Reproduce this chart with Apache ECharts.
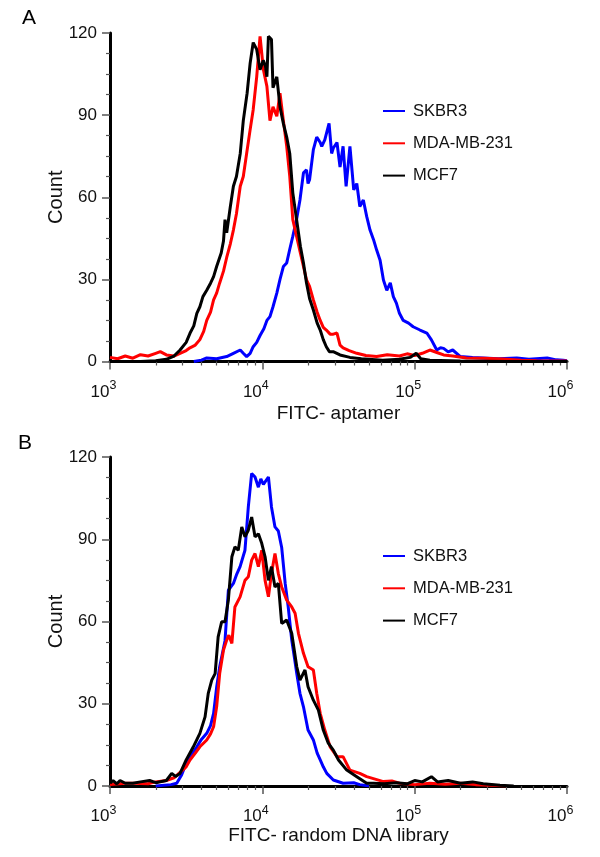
<!DOCTYPE html>
<html>
<head>
<meta charset="utf-8">
<script src="https://cdn.jsdelivr.net/npm/echarts@6/dist/echarts.min.js"></script>
<style>html,body{margin:0;padding:0;background:#fff}#c{width:600px;height:857px}</style>
</head>
<body>
<div id="c"></div>
<script>
// x values are log10 of fluorescence intensity (axis shows 10^3 .. 10^6)
const seriesNames = ['SKBR3', 'MDA-MB-231', 'MCF7'];
const seriesColors = ['#0000ff', '#ff0000', '#000000'];
const xExponents = [3, 4, 5, 6];
const yTicks = [0, 30, 60, 90, 120];

// Panel A: FITC- aptamer
const aSKBR3 = [[3.55,0],[3.60,0.5],[3.635,1.3],[3.70,1.0],[3.766,1.8],[3.81,3],[3.855,4.2],[3.875,3],[3.897,1.8],[3.92,3],[3.94,5.4],[3.963,7],[3.985,9.5],[4.01,12],[4.03,15],[4.05,16.4],[4.07,20],[4.095,25],[4.116,30],[4.138,34.7],[4.16,36],[4.18,41],[4.20,45.7],[4.225,52],[4.247,59],[4.27,68.9],[4.29,70],[4.30,65],[4.31,66.4],[4.335,77.4],[4.357,82],[4.38,80],[4.39,78.6],[4.41,81],[4.438,87],[4.455,76],[4.466,78],[4.49,80],[4.51,71],[4.53,78.6],[4.55,64],[4.575,78.6],[4.60,62.7],[4.62,65],[4.64,56.6],[4.663,59],[4.685,53],[4.707,48],[4.73,44.5],[4.75,40.8],[4.773,37],[4.795,29.8],[4.817,26],[4.84,28.7],[4.86,23.7],[4.88,21.3],[4.90,17.6],[4.925,15],[4.96,14],[4.99,12.7],[5.035,11.5],[5.08,10.4],[5.11,7.9],[5.145,4.2],[5.17,5],[5.19,4.8],[5.22,3.5],[5.25,4.2],[5.30,1.8],[5.38,1.5],[5.45,1.3],[5.55,1.0],[5.67,1.3],[5.75,0.8],[5.87,1.3],[5.93,0.6],[5.975,0.5],[6.0,0.3]];
const aMDA = [[3.00,1.5],[3.05,1.0],[3.10,2.0],[3.15,1.2],[3.20,2.5],[3.25,2.0],[3.30,3.0],[3.33,3.6],[3.37,2.4],[3.42,2.0],[3.46,3.0],[3.50,4.0],[3.525,5],[3.56,6],[3.59,8],[3.615,11],[3.635,15],[3.66,18],[3.68,22.5],[3.70,25],[3.72,28.7],[3.745,33],[3.766,38],[3.79,43],[3.81,48],[3.83,54],[3.855,64],[3.875,67.6],[3.897,76],[3.92,84.7],[3.94,92],[3.963,104],[3.985,118.8],[4.007,106.6],[4.03,100.5],[4.05,88],[4.07,93],[4.095,89.6],[4.116,98],[4.138,88],[4.16,78.6],[4.18,67.6],[4.20,51.8],[4.225,45.7],[4.25,39.6],[4.27,34.7],[4.29,29.8],[4.31,27.4],[4.335,22.5],[4.36,18],[4.38,15],[4.40,12.5],[4.42,11.5],[4.445,10],[4.466,10],[4.49,10.4],[4.51,6],[4.53,5],[4.57,4],[4.62,3],[4.68,2.2],[4.75,1.8],[4.82,2.5],[4.90,2],[4.95,2.8],[5.00,2.2],[5.05,3],[5.10,4.2],[5.15,3.2],[5.19,2.4],[5.25,2],[5.34,1.3],[5.45,1.2],[5.58,0.9],[5.70,0.5],[5.80,0.3],[6.0,0.2]];
const aMCF7 = [[3.00,0],[3.20,0],[3.30,0.3],[3.37,0.8],[3.42,2],[3.46,4.2],[3.50,7],[3.525,10.3],[3.55,13],[3.57,17.6],[3.59,20],[3.61,23.7],[3.635,26],[3.66,28.6],[3.68,31],[3.70,34.7],[3.73,39.6],[3.745,44],[3.755,51.8],[3.766,47],[3.79,56.6],[3.81,64],[3.83,67.6],[3.855,76],[3.875,88],[3.90,98],[3.92,109],[3.94,116.5],[3.963,114],[3.985,106.6],[4.006,110],[4.02,108],[4.03,104],[4.04,118.8],[4.06,117.6],[4.07,100],[4.095,104],[4.116,93],[4.138,87],[4.16,82],[4.18,76],[4.20,61.6],[4.225,51.8],[4.25,42],[4.27,36],[4.29,28.7],[4.31,23],[4.335,18.8],[4.36,14],[4.38,11.5],[4.40,8],[4.42,5.4],[4.44,3.6],[4.465,3.6],[4.51,2.4],[4.575,1.5],[4.65,1.0],[4.79,0.5],[4.90,0.8],[4.97,1.5],[5.01,3.0],[5.04,1.0],[5.10,0.5],[5.30,0.2],[5.6,0],[6.0,0]];

// Panel B: FITC- random DNA library
const bSKBR3 = [[3.30,0],[3.40,0.5],[3.438,1],[3.47,4],[3.50,8.3],[3.53,11],[3.57,14.3],[3.60,17],[3.635,19.2],[3.66,22],[3.68,26.5],[3.70,36],[3.72,43.5],[3.755,53],[3.777,71.4],[3.81,73.9],[3.83,77],[3.854,80],[3.886,86],[3.908,101.8],[3.93,114],[3.952,112.7],[3.974,109],[3.99,112],[4.007,110],[4.04,112.7],[4.06,101.8],[4.083,94.5],[4.105,93],[4.127,87],[4.15,73.9],[4.17,65.3],[4.193,53.2],[4.21,47],[4.226,41],[4.247,33.8],[4.27,28.9],[4.30,20.4],[4.335,16.8],[4.36,12],[4.38,9.5],[4.40,7],[4.423,4.6],[4.466,2.2],[4.53,1],[4.60,1.2],[4.64,0.5],[4.70,0]];
const bMDA = [[3.00,0.5],[3.10,1],[3.15,1],[3.25,0.8],[3.30,1.5],[3.37,2],[3.42,3],[3.46,5],[3.50,7],[3.525,9.5],[3.56,12],[3.59,14.3],[3.635,16.8],[3.66,19],[3.68,21.6],[3.70,28.9],[3.72,41],[3.745,49.6],[3.766,53.2],[3.78,55],[3.80,52],[3.82,65.3],[3.854,69],[3.886,75],[3.908,76.3],[3.93,82.4],[3.952,84.8],[3.974,80],[3.996,86],[4.018,75],[4.04,69],[4.06,77.5],[4.083,84.8],[4.105,77.5],[4.127,72.6],[4.16,67.8],[4.193,65.3],[4.215,63],[4.237,55.7],[4.27,48.4],[4.30,43.5],[4.335,42.3],[4.357,33.8],[4.38,26.5],[4.41,20.4],[4.445,14.3],[4.49,10.7],[4.53,10.7],[4.575,5.8],[4.64,4.6],[4.685,3.4],[4.74,2.5],[4.795,1.6],[4.85,1.8],[4.90,1],[5.0,0.5],[5.1,1],[5.2,0.6],[5.3,1],[5.4,0.5],[5.5,0.3],[5.6,0]];
const bMCF7 = [[3.00,1],[3.02,2],[3.045,0.8],[3.066,2],[3.10,1],[3.15,1],[3.20,1.5],[3.26,2],[3.30,1.2],[3.37,2],[3.405,4.6],[3.43,3.5],[3.46,4.6],[3.50,9.5],[3.547,14.3],[3.59,19.2],[3.624,25.2],[3.645,33.8],[3.668,38.6],[3.69,41],[3.71,54.4],[3.733,59.9],[3.755,59.9],[3.777,67.8],[3.80,83.6],[3.82,87.2],[3.842,86],[3.865,94.5],[3.886,90.9],[3.908,93.3],[3.93,98.1],[3.952,90.9],[3.974,92],[3.996,88.5],[4.018,83.6],[4.04,75],[4.06,80],[4.083,72.6],[4.105,73.9],[4.127,59.3],[4.16,60.5],[4.193,55.7],[4.226,43.5],[4.247,38.6],[4.28,42.3],[4.30,36.2],[4.335,31.3],[4.368,27.7],[4.40,20.4],[4.433,15.6],[4.466,13.1],[4.50,9.5],[4.554,5.8],[4.62,3.4],[4.685,1],[4.73,1],[4.80,0.8],[4.88,1.2],[4.95,0.8],[5.0,2],[5.05,1.5],[5.11,3.4],[5.15,1.5],[5.22,2],[5.30,1],[5.38,1.5],[5.45,0.8],[5.56,0.3],[5.65,0]];

const panelData = [[aSKBR3, aMDA, aMCF7], [bSKBR3, bMDA, bMCF7]];
const xTitles = ['FITC- aptamer', 'FITC- random DNA library'];
const panelLetters = ['A', 'B'];

const FONT = '"Liberation Sans", Arial, sans-serif';
// minor log ticks (2..9 x 10^n)
const minorTicks = [];
for (let e = 3; e < 6; e++) for (let k = 2; k <= 9; k++) minorTicks.push(e + Math.log10(k));

const grids = [
  {left: 110, top: 33, width: 457, height: 328.5},
  {left: 110, top: 457, width: 457, height: 329}
];

const xAxes = [], yAxes = [], series = [], legends = [];
const legendTops = [101.5, 546.5];
const xNameGaps = [43, 40];
grids.forEach((g, i) => {
  xAxes.push({
    gridIndex: i, type: 'value', min: 3, max: 6, interval: 1,
    name: xTitles[i], nameLocation: 'middle', nameGap: xNameGaps[i], nameMoveOverlap: false,
    nameTextStyle: {fontSize: 19, color: '#111', fontFamily: FONT},
    axisLine: {show: true, onZero: false, lineStyle: {color: '#000', width: 3}},
    axisTick: {show: true, length: 8, customValues: xExponents, lineStyle: {color: '#555', width: 1.5}},
    axisLabel: {
      margin: 18, customValues: xExponents, padding: [0, 13, 0, 0],
      formatter: v => '{b|10}{s|' + Math.round(v) + '}',
      rich: {
        b: {fontSize: 17, color: '#111', fontFamily: FONT, verticalAlign: 'bottom', lineHeight: 21},
        s: {fontSize: 12.5, color: '#111', fontFamily: FONT, verticalAlign: 'top', lineHeight: 14}
      }
    },
    splitLine: {show: false}
  });
  xAxes.push({
    gridIndex: i, type: 'value', min: 3, max: 6, position: 'bottom',
    axisLine: {show: false},
    axisTick: {show: true, length: 4, customValues: minorTicks, lineStyle: {color: '#555', width: 1.2}},
    axisLabel: {show: false}, splitLine: {show: false}
  });
  yAxes.push({
    gridIndex: i, type: 'value', min: 0, max: 120, interval: 30,
    name: 'Count', nameLocation: 'middle', nameGap: 44, nameMoveOverlap: false,
    nameTextStyle: {fontSize: 20, color: '#111', fontFamily: FONT},
    axisLine: {show: true, lineStyle: {color: '#000', width: 3}},
    axisTick: {show: true, length: 8, lineStyle: {color: '#555', width: 1.5}},
    minorTick: {show: true, splitNumber: 4, length: 4, lineStyle: {color: '#555', width: 1.2}},
    axisLabel: {fontSize: 17, color: '#111', fontFamily: FONT, margin: 13},
    splitLine: {show: false}
  });
  panelData[i].forEach((d, j) => {
    series.push({
      name: seriesNames[j], type: 'line', xAxisIndex: i * 2, yAxisIndex: i,
      data: d, showSymbol: false, symbol: 'none', clip: true, z: 2 + j,
      lineStyle: {color: seriesColors[j], width: 3}, itemStyle: {color: seriesColors[j]}
    });
  });
  legends.push({
    orient: 'vertical', left: 383, top: legendTops[i], padding: 0,
    itemWidth: 22, itemHeight: 2, itemGap: 13.3,
    icon: 'rect', data: seriesNames, selectedMode: false,
    textStyle: {fontSize: 16.5, color: '#111', fontFamily: FONT, lineHeight: 19, padding: [0, 0, 0, 3]}
  });
});

const chart = echarts.init(document.getElementById('c'), null, {renderer: 'canvas'});
chart.setOption({
  animation: false,
  backgroundColor: '#fff',
  grid: grids,
  xAxis: xAxes,
  yAxis: yAxes,
  legend: legends,
  series: series,
  graphic: [
    {type: 'text', left: 22, top: 8, style: {text: panelLetters[0], fontSize: 21, fill: '#000', fontFamily: FONT}},
    {type: 'text', left: 18, top: 433, style: {text: panelLetters[1], fontSize: 21, fill: '#000', fontFamily: FONT}}
  ]
});
</script>
</body>
</html>
